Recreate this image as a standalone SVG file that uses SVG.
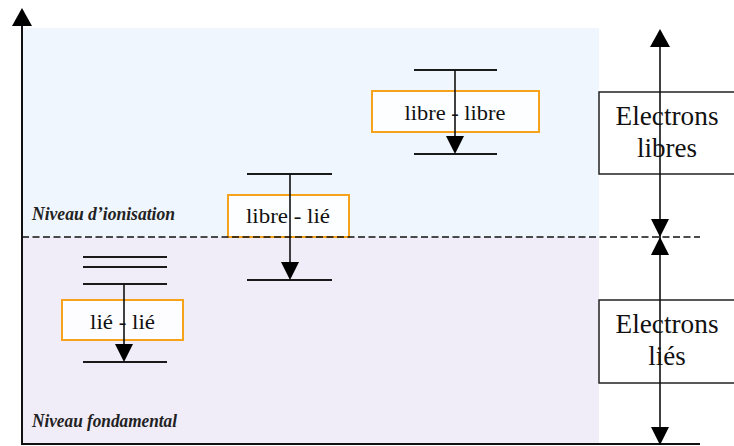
<svg xmlns="http://www.w3.org/2000/svg" width="734" height="446" viewBox="0 0 734 446">
<style>
.lvl{stroke:#1a1a1a;stroke-width:2;fill:none}
.ln{stroke:#111;stroke-width:1.6;fill:none}
.ax{stroke:#111;stroke-width:2;fill:none}
.tri{fill:#000}
.obox{fill:#ffffff;fill-opacity:0.85;stroke:#f7a21b;stroke-width:2}
.kbox{fill:#ffffff;stroke:#222;stroke-width:1.5}
text{font-family:'Liberation Serif','Times New Roman',serif}
.t{fill:#111;text-anchor:middle}
.it{font-style:italic;font-weight:bold;fill:#222}
</style>
<rect width="734" height="446" fill="#ffffff"/>
<g id="regions">
<rect x="22" y="28" width="577" height="209" fill="#eff6fd"/>
<rect x="22" y="237" width="577" height="207" fill="#f0ecf8"/>
</g>
<g id="labels">
<text class="it" x="32" y="220" font-size="18" textLength="143" lengthAdjust="spacingAndGlyphs">Niveau d’ionisation</text>
<text class="it" x="32" y="427" font-size="18" textLength="145" lengthAdjust="spacingAndGlyphs">Niveau fondamental</text>
</g>
<g id="box-libre-libre">
<rect class="obox" x="372" y="91" width="167" height="41"/>
<text class="t" x="455" y="120" font-size="22" textLength="101" lengthAdjust="spacingAndGlyphs">libre - libre</text>
</g>
<g id="box-libre-lie">
<rect class="obox" x="228" y="195" width="121" height="42"/>
<text class="t" x="288" y="223" font-size="22" textLength="84" lengthAdjust="spacingAndGlyphs">libre - lié</text>
</g>
<g id="box-lie-lie">
<rect class="obox" x="62" y="300" width="121" height="40"/>
<text class="t" x="122.5" y="329" font-size="22" textLength="65" lengthAdjust="spacingAndGlyphs">lié - lié</text>
</g>
<g id="box-electrons-libres">
<rect class="kbox" x="599" y="92" width="136" height="82"/>
<text class="t" x="667" y="125" font-size="27" textLength="103" lengthAdjust="spacingAndGlyphs">Electrons</text>
<text class="t" x="667" y="157" font-size="27">libres</text>
</g>
<g id="box-electrons-lies">
<rect class="kbox" x="599" y="300" width="136" height="83"/>
<text class="t" x="667" y="333" font-size="27" textLength="103" lengthAdjust="spacingAndGlyphs">Electrons</text>
<text class="t" x="667" y="365" font-size="27">liés</text>
</g>
<g id="connectors">
<line x1="22" y1="237" x2="700" y2="237" stroke="#111" stroke-width="1.5" stroke-dasharray="7,3.5"/>
<line class="ax" x1="22" y1="24" x2="22" y2="444"/>
<polygon class="tri" points="22,8 12,26 32,26"/>
<line class="ax" x1="21" y1="444" x2="700" y2="444"/>
<line class="ln" x1="660" y1="44" x2="660" y2="428"/>
<polygon class="tri" points="660,29 650,47 670,47"/>
<polygon class="tri" points="660,237 651,219 669,219"/>
<polygon class="tri" points="660,237 651,255 669,255"/>
<polygon class="tri" points="660,445 651,427 669,427"/>
<line class="lvl" x1="414" y1="70" x2="497" y2="70"/>
<line class="lvl" x1="414" y1="154" x2="497" y2="154"/>
<line class="ln" x1="455" y1="70" x2="455" y2="138"/>
<polygon class="tri" points="455,154 446,136 464,136"/>
<line class="lvl" x1="247" y1="174" x2="332" y2="174"/>
<line class="lvl" x1="247" y1="280" x2="332" y2="280"/>
<line class="ln" x1="290" y1="174" x2="290" y2="264"/>
<polygon class="tri" points="290,280 281,262 299,262"/>
<line class="lvl" x1="83" y1="257" x2="167" y2="257"/>
<line class="lvl" x1="83" y1="267" x2="167" y2="267"/>
<line class="lvl" x1="83" y1="284" x2="167" y2="284"/>
<line class="lvl" x1="83" y1="362" x2="167" y2="362"/>
<line class="ln" x1="124" y1="284" x2="124" y2="346"/>
<polygon class="tri" points="124,362 115,344 133,344"/>
</g>
</svg>
